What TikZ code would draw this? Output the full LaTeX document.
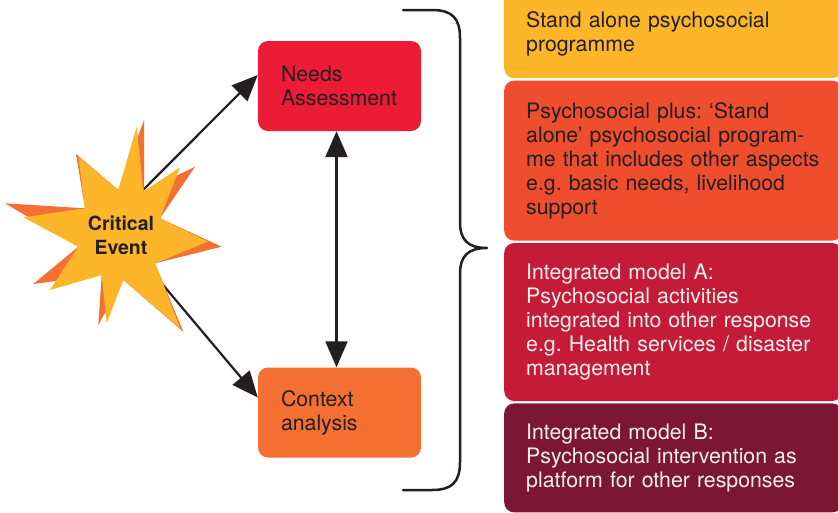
\documentclass[tikz,border=0pt]{standalone}
\usepackage{fontspec}
\setmainfont{TeX Gyre Heros}
\usetikzlibrary{arrows.meta}
\usetikzlibrary{positioning}
\usetikzlibrary{backgrounds}
\definecolor{textdark}{HTML}{231F20}
\definecolor{textlight}{HTML}{F7F0F0}
\definecolor{needsred}{HTML}{ED1C36}
\definecolor{contextorange}{HTML}{F37032}
\definecolor{optyellow}{HTML}{FDB62A}
\definecolor{optorange}{HTML}{EE4E2E}
\definecolor{optcrimson}{HTML}{C41B36}
\definecolor{optmaroon}{HTML}{7B1734}
\frenchspacing

\begin{document}
\begin{tikzpicture}[x=1pt, y=-1pt, line cap=round, line join=round,
    >={Triangle[length=26pt,width=22pt]},
    stepbox/.style={rounded corners=10pt, inner xsep=23pt, text width=117pt,
      minimum height=90pt, align=left, text=textdark,
      font=\fontsize{21.3}{24}\selectfont},
    optbox/.style={rounded corners=10pt, inner xsep=22pt, text width=294pt,
      align=left, font=\fontsize{21.3}{24}\selectfont},
    link/.style={->, line width=2.2pt, draw=textdark, fill=textdark}]
  \useasboundingbox (0,0) rectangle (838,512);
  %--- Needs assessment and context analysis
    \node[stepbox, fill=needsred] (needs) at (339.5,86) {Needs\\Assessment};
    \node[stepbox, fill=contextorange] (context) at (339.5,412.5) {Context\\analysis};
    \draw[link, <->] ([xshift=-3pt]needs.south) -- ([xshift=-3pt]context.north);
  %--- Options
    \node[optbox, fill=optyellow, text=textdark, minimum height=89pt, anchor=north west]
      (standalone) at (504,-11) {Stand alone psychosocial\\programme};
    \node[optbox, fill=optorange, text=textdark, minimum height=160pt, below=2pt of standalone]
      (plus) {Psychosocial plus: ‘Stand\\alone’ psychosocial program-\\me that includes other aspects\\e.g. basic needs, livelihood\\support};
    \node[optbox, fill=optcrimson, text=textlight, minimum height=158pt, below=2pt of plus]
      (modela) {Integrated model A:\\Psychosocial activities\\integrated into other response\\e.g. Health services / disaster\\management};
    \node[optbox, fill=optmaroon, text=textlight, minimum height=109pt, below=2pt of modela]
      (modelb) {Integrated model B:\\Psychosocial intervention as\\platform for other responses};
  %--- Brace
    \draw[line width=2.5pt, textdark] (403,10) -- (432,10)
      .. controls (452,10) and (460,18) .. (460,38) -- (460,222)
      .. controls (460,240) and (468,248) .. (487,248)
      .. controls (468,248) and (460,256) .. (460,274) -- (460,462)
      .. controls (460,482) and (452,490) .. (432,490) -- (403,490);
  %--- Critical event
    \fill[contextorange] (144,120) -- (144,191.7) -- (195,166.7) -- (160,218.3)
      -- (221.7,246.7) -- (155,263.3) -- (183.3,331.7) -- (123.3,280) -- (98.3,325)
      -- (101.7,275) -- (33.3,284) -- (78.3,246.7) -- (5,203.3) -- (85,208.3)
      -- (76,154) -- (118.3,190) -- cycle;
    \fill[optyellow] (136.7,126.7) -- (143.3,191.7) -- (180,167.3) -- (160,218.3)
      -- (208,241.7) -- (155,263.3) -- (180,328) -- (123.3,280) -- (106.7,323.3)
      -- (101.7,275) -- (50,290) -- (78.3,246.7) -- (23.3,217.3) -- (85,208.3)
      -- (78.3,156.7) -- (118.3,190) -- cycle;
    \node[font=\bfseries\fontsize{19.5}{24}\selectfont, align=center, text=textdark]
      (event) at (121,235) {Critical\\Event};
  %--- Links
    \begin{scope}[on background layer]
      \draw[link] (event.north) -- ([yshift=11pt]needs.west);
      \draw[link] (event.center) -- ([yshift=15pt]context.west);
    \end{scope}
\end{tikzpicture}
\end{document}
